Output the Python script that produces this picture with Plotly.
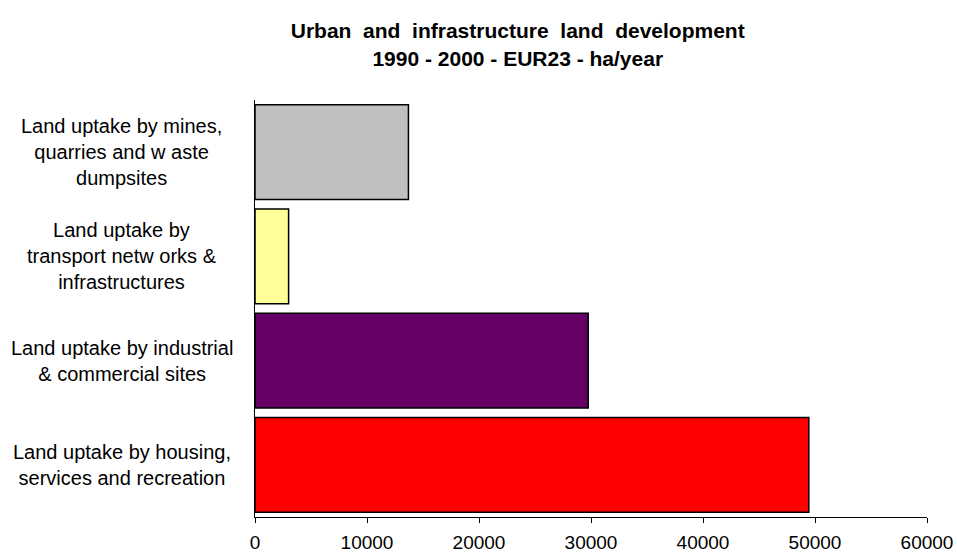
import plotly.graph_objects as go

# Categories (bottom to top) and values in ha/year
categories = ["housing", "industrial", "transport", "mines"]
labels = [
    "Land uptake by housing,<br>services and recreation",
    "Land uptake by industrial<br>& commercial sites",
    "Land uptake by<br>transport netw orks &<br>infrastructures",
    "Land uptake by mines,<br>quarries and w aste<br>dumpsites",
]
values = [49450, 29750, 3000, 13700]
colors = ["#FF0000", "#660066", "#FFFF99", "#C0C0C0"]
x_ticks = [0, 10000, 20000, 30000, 40000, 50000, 60000]

font_name = "Liberation Sans, Arial, sans-serif"

fig = go.Figure(go.Bar(
    y=categories,
    x=values,
    orientation="h",
    marker=dict(color=colors, line=dict(color="black", width=1.5)),
    hoverinfo="x",
))

# category labels, centred like the original
for cat, lab in zip(categories, labels):
    fig.add_annotation(
        x=-0.198, xref="paper", y=cat, yref="y",
        text=lab, showarrow=False, xanchor="center", align="center",
        font=dict(family=font_name, size=20, color="black"),
    )

fig.update_layout(
    width=957, height=554,
    margin=dict(l=255, r=30, t=100, b=37),
    paper_bgcolor="white", plot_bgcolor="white",
    bargap=0.09,
    showlegend=False,
    title=dict(
        text="<b>Urban  and  infrastructure  land  development<br>1990 - 2000 - EUR23 - ha/year</b>",
        x=0.541, xanchor="center", y=0.931, yanchor="middle",
        font=dict(family=font_name, size=21, color="black"),
    ),
    xaxis=dict(
        range=[0, 60000], tickvals=x_ticks, ticktext=[str(t) for t in x_ticks],
        showgrid=False, zeroline=False, showline=True, linecolor="black", linewidth=1,
        ticks="outside", ticklen=5, tickcolor="black", ticklabelstandoff=3,
        tickfont=dict(family=font_name, size=19, color="black"),
        automargin=False,
    ),
    yaxis=dict(
        categoryorder="array", categoryarray=categories,
        showticklabels=False, showgrid=False, zeroline=False,
        showline=True, linecolor="black", linewidth=1, automargin=False,
    ),
)

# drop the browser's default body margin so the figure sits at 0,0
fig.write_html("out.html", config={"displayModeBar": False},
               post_script="document.body.style.margin='0';")
